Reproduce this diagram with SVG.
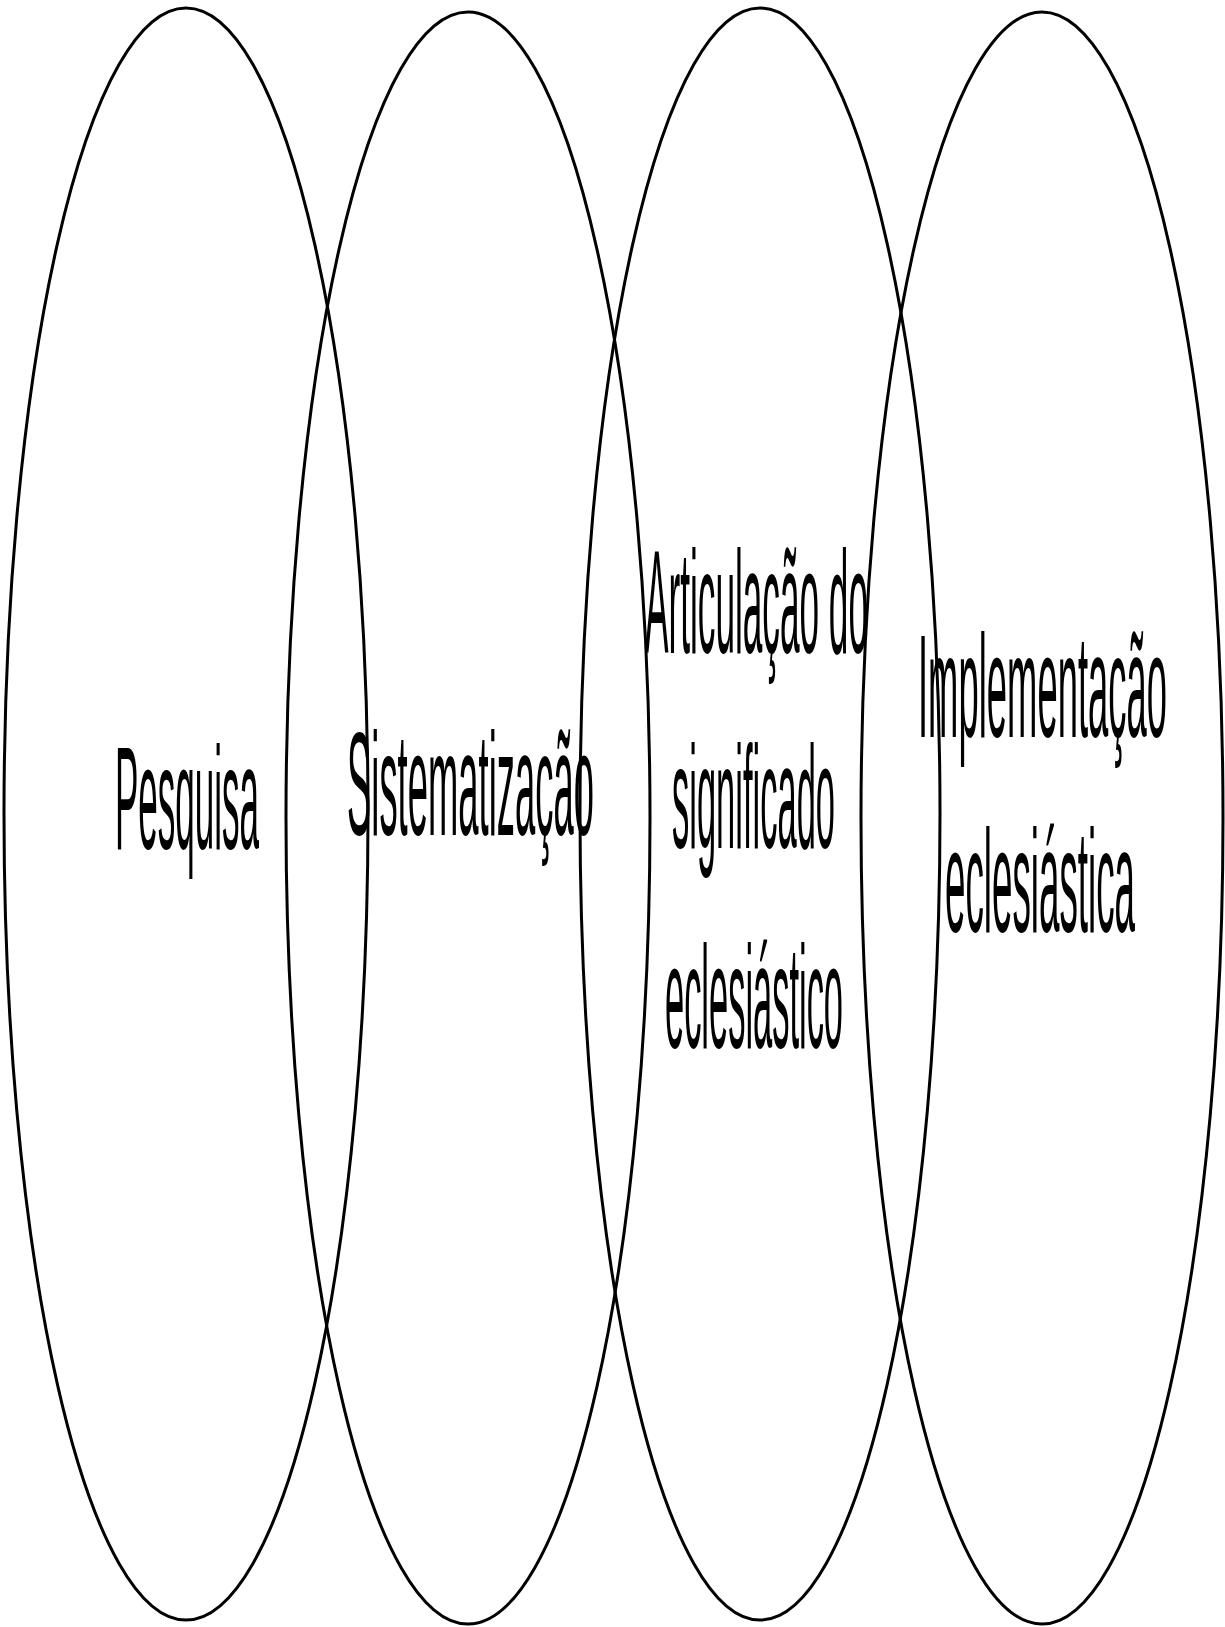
<svg xmlns="http://www.w3.org/2000/svg" width="1225" height="1627" viewBox="0 0 1225 1627">
<style>
.ell{fill:none;stroke:#000;stroke-width:3}
.lbl{font-family:"Liberation Sans",Arial,sans-serif;font-size:146px;fill:#000}
</style>
<rect width="1225" height="1627" fill="#fff"/>
<g id="node-pesquisa">
<ellipse class="ell" cx="186" cy="814" rx="182" ry="806"/>
<text class="lbl" x="115" y="849" textLength="144" lengthAdjust="spacingAndGlyphs">Pesquisa</text>
</g>
<g id="node-sistematizacao">
<ellipse class="ell" cx="468" cy="818" rx="182" ry="806"/>
<text class="lbl" x="347" y="835" textLength="247" lengthAdjust="spacingAndGlyphs">Sistematização</text>
</g>
<g id="node-articulacao">
<ellipse class="ell" cx="760" cy="814" rx="180" ry="806"/>
<text class="lbl" x="645" y="653" textLength="223" lengthAdjust="spacingAndGlyphs">Articulação do</text>
<text class="lbl" x="672" y="848" textLength="163" lengthAdjust="spacingAndGlyphs">significado</text>
<text class="lbl" x="665" y="1048" textLength="178" lengthAdjust="spacingAndGlyphs">eclesiástico</text>
</g>
<g id="node-implementacao">
<ellipse class="ell" cx="1042" cy="818" rx="181" ry="806"/>
<text class="lbl" x="918" y="737" textLength="249" lengthAdjust="spacingAndGlyphs">Implementação</text>
<text class="lbl" x="945" y="932" textLength="190" lengthAdjust="spacingAndGlyphs">eclesiástica</text>
</g>
<g id="connectors"></g>
</svg>
